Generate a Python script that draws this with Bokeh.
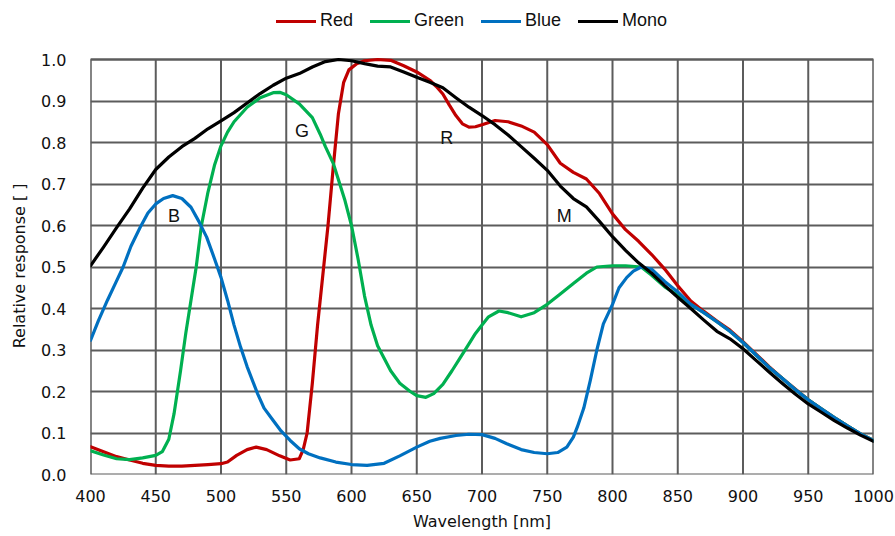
from bokeh.plotting import figure
from bokeh.models import Range1d, FixedTicker, Legend, LegendItem
from bokeh.core.properties import value
from bokeh.embed import file_html
from bokeh.resources import INLINE

# ---------------- data ----------------
red_wl = [400, 410, 420, 430, 440, 450, 460, 470, 480, 490, 500, 505, 512, 520, 527, 535, 545, 553,
          560, 563, 566, 570, 574, 578, 582, 586, 590, 594, 598, 604, 610, 620, 630, 640, 650, 660,
          665, 670, 675, 680, 685, 690, 695, 700, 710, 720, 730, 740, 750, 760, 770, 780, 790, 800,
          810, 820, 830, 840, 850, 860, 870, 880, 890, 900, 910, 920, 930, 940, 950, 960, 970, 980,
          990, 1000]
red_val = [0.067, 0.055, 0.043, 0.035, 0.027, 0.022, 0.020, 0.020, 0.022, 0.024, 0.026, 0.030, 0.046,
           0.060, 0.066, 0.060, 0.045, 0.035, 0.038, 0.060, 0.100, 0.220, 0.360, 0.480, 0.600, 0.740,
           0.870, 0.945, 0.975, 0.990, 0.997, 1.000, 0.998, 0.985, 0.970, 0.950, 0.935, 0.917, 0.890,
           0.865, 0.845, 0.837, 0.838, 0.843, 0.853, 0.850, 0.840, 0.825, 0.795, 0.750, 0.728, 0.712,
           0.677, 0.628, 0.590, 0.562, 0.530, 0.495, 0.455, 0.418, 0.393, 0.370, 0.348, 0.320, 0.290,
           0.260, 0.232, 0.206, 0.180, 0.158, 0.137, 0.117, 0.098, 0.082]

green_wl = [400, 410, 420, 430, 440, 450, 455, 460, 464, 469, 473, 477, 481, 485, 490, 495, 500, 505,
            510, 520, 530, 540, 545, 550, 560, 570, 576, 580, 586, 590, 595, 600, 605, 610, 615, 620,
            625, 630, 637, 645, 650, 657, 663, 670, 677, 683, 690, 695, 700, 705, 713, 720, 730, 740,
            750, 760, 770, 780, 788, 800, 810, 822, 830, 840, 850, 860, 870, 880, 890, 900, 910, 920,
            930, 940, 950, 960, 970, 980, 990, 1000]
green_val = [0.057, 0.047, 0.038, 0.036, 0.040, 0.046, 0.055, 0.085, 0.146, 0.250, 0.340, 0.420, 0.500,
             0.600, 0.680, 0.745, 0.792, 0.825, 0.850, 0.885, 0.908, 0.920, 0.921, 0.915, 0.893, 0.860,
             0.820, 0.790, 0.750, 0.710, 0.660, 0.600, 0.520, 0.430, 0.360, 0.310, 0.280, 0.250, 0.220,
             0.200, 0.190, 0.186, 0.195, 0.217, 0.250, 0.280, 0.315, 0.340, 0.360, 0.380, 0.394, 0.390,
             0.380, 0.390, 0.410, 0.435, 0.460, 0.485, 0.500, 0.503, 0.503, 0.500, 0.480, 0.452, 0.432,
             0.410, 0.390, 0.368, 0.345, 0.318, 0.288, 0.258, 0.232, 0.205, 0.180, 0.158, 0.137, 0.117,
             0.098, 0.082]

blue_wl = [400, 406, 413, 419, 425, 431, 438, 444, 450, 456, 463, 470, 477, 483, 489, 495, 500, 505,
           510, 515, 520, 528, 533, 540, 546, 553, 560, 567, 576, 588, 600, 612, 625, 637, 650, 660,
           668, 680, 690, 700, 710, 719, 730, 740, 750, 758, 765, 770, 773, 778, 783, 788, 793, 800,
           805, 811, 816, 822, 830, 840, 850, 860, 870, 880, 890, 900, 910, 920, 930, 940, 950, 960,
           970, 980, 990, 1000]
blue_val = [0.323, 0.370, 0.420, 0.460, 0.500, 0.550, 0.595, 0.630, 0.652, 0.665, 0.672, 0.665, 0.644,
            0.610, 0.572, 0.520, 0.475, 0.420, 0.360, 0.307, 0.260, 0.195, 0.160, 0.130, 0.105, 0.082,
            0.062, 0.050, 0.040, 0.030, 0.024, 0.022, 0.027, 0.045, 0.066, 0.080, 0.087, 0.094, 0.097,
            0.096, 0.087, 0.074, 0.060, 0.053, 0.050, 0.053, 0.066, 0.090, 0.114, 0.160, 0.227, 0.300,
            0.363, 0.410, 0.450, 0.475, 0.490, 0.500, 0.495, 0.465, 0.440, 0.410, 0.390, 0.368, 0.345,
            0.318, 0.288, 0.258, 0.232, 0.205, 0.180, 0.158, 0.137, 0.117, 0.098, 0.082]

mono_wl = [400, 410, 420, 430, 440, 450, 460, 470, 480, 490, 500, 510, 520, 530, 540, 550, 560, 570,
           580, 590, 600, 610, 620, 630, 640, 650, 660, 670, 680, 690, 700, 710, 720, 730, 740, 750,
           760, 770, 780, 790, 800, 810, 820, 830, 840, 850, 860, 870, 880, 890, 900, 910, 920, 930,
           940, 950, 960, 970, 980, 990, 1000]
mono_val = [0.503, 0.548, 0.595, 0.640, 0.690, 0.735, 0.765, 0.790, 0.810, 0.833, 0.852, 0.872, 0.895,
            0.918, 0.938, 0.955, 0.966, 0.982, 0.995, 1.000, 0.997, 0.990, 0.984, 0.982, 0.970, 0.957,
            0.945, 0.932, 0.908, 0.885, 0.865, 0.843, 0.818, 0.790, 0.762, 0.733, 0.695, 0.665, 0.645,
            0.610, 0.573, 0.540, 0.510, 0.485, 0.455, 0.427, 0.400, 0.372, 0.345, 0.327, 0.303, 0.275,
            0.247, 0.220, 0.194, 0.170, 0.150, 0.130, 0.112, 0.095, 0.080]

series_names = ["Red", "Green", "Blue", "Mono"]

x_ticks = [400, 450, 500, 550, 600, 650, 700, 750, 800, 850, 900, 950, 1000]
y_ticks = [0.0, 0.1, 0.2, 0.3, 0.4, 0.5, 0.6, 0.7, 0.8, 0.9, 1.0]
y_tick_labels = ["0.0", "0.1", "0.2", "0.3", "0.4", "0.5", "0.6", "0.7", "0.8", "0.9", "1.0"]

curve_label_text = ["B", "G", "R", "M"]
curve_label_x = [464, 562, 673, 763]
curve_label_y = [0.623, 0.828, 0.811, 0.622]

# ---------------- layout / styling ----------------
colors = ["#C00000", "#00B050", "#0070C0", "#000000"]
grid_color = "#5c5c5c"
tick_font = "DejaVu Sans"

W, H = 895, 536
border_left, border_right, border_top, border_bottom = 90, 22, 11, 62
plot_px = 415            # pixel height of the 0..1 data area
frame_h = H - border_top - border_bottom
y_lo, y_hi = y_ticks[0], y_ticks[-1]
y_top = y_lo + (y_hi - y_lo) * frame_h / plot_px   # extra room above 1.0 for the legend

p = figure(width=W, height=H,
           x_range=Range1d(x_ticks[0], x_ticks[-1]), y_range=Range1d(y_lo, y_top),
           output_backend="svg", toolbar_location=None,
           min_border_left=border_left, min_border_right=border_right,
           min_border_top=border_top, min_border_bottom=border_bottom)
p.title.visible = False
p.background_fill_color = "white"
p.border_fill_color = "white"
p.outline_line_color = None

p.xaxis.ticker = FixedTicker(ticks=x_ticks)
p.yaxis.ticker = FixedTicker(ticks=y_ticks)
p.yaxis.major_label_overrides = {t: s for t, s in zip(y_ticks, y_tick_labels)}
p.yaxis.bounds = (y_lo, y_hi)

for ax in (p.xaxis[0], p.yaxis[0]):
    ax.axis_line_color = None
    ax.major_tick_line_color = None
    ax.minor_tick_line_color = None
    ax.major_tick_out = 0
    ax.major_tick_in = 0
    ax.minor_tick_out = 0
    ax.major_label_text_font = tick_font
    ax.major_label_text_font_size = "16px"
    ax.major_label_text_color = "#111111"
    ax.axis_label_text_font = tick_font
    ax.axis_label_text_font_size = "16px"
    ax.axis_label_text_font_style = "normal"
    ax.axis_label_text_color = "#111111"

p.xaxis.axis_label = "Wavelength [nm]"
# trailing no-break spaces keep the label centred on the 0..1 part of the frame
p.yaxis.axis_label = "Relative response [ ]" + "\u00a0" * 9
p.xaxis.major_label_standoff = 15
p.xaxis.axis_label_standoff = 7
p.yaxis.major_label_standoff = 24
p.yaxis.axis_label_standoff = 9

# horizontal grid from the y axis ticks; vertical grid limited to 0..1
p.ygrid.grid_line_color = grid_color
p.ygrid.grid_line_width = 2
p.xgrid.visible = False
p.segment(x0=x_ticks, y0=[y_lo] * len(x_ticks), x1=x_ticks, y1=[y_hi] * len(x_ticks),
          line_color=grid_color, line_width=2)
# plot border
p.quad(left=[x_ticks[0]], right=[x_ticks[-1]], bottom=[y_lo], top=[y_hi],
       fill_color=None, line_color=grid_color, line_width=2)

renderers = []
for wl, vals, col in [(red_wl, red_val, colors[0]), (green_wl, green_val, colors[1]),
                      (blue_wl, blue_val, colors[2]), (mono_wl, mono_val, colors[3])]:
    r = p.line(wl, vals, line_color=col, line_width=3.2, line_join="round", line_cap="round")
    renderers.append(r)

p.text(x=curve_label_x, y=curve_label_y, text=curve_label_text,
       text_font=value("Liberation Sans"), text_font_size=value("18px"),
       text_align="center", text_baseline="middle", text_color="#111111")

legend = Legend(items=[LegendItem(label=n, renderers=[r]) for n, r in zip(series_names, renderers)],
                orientation="horizontal", location=(186, 443),
                glyph_width=40, glyph_height=20, label_standoff=4, spacing=17,
                padding=0, margin=0, border_line_color=None, background_fill_alpha=0,
                label_text_font="Liberation Sans", label_text_font_size="18px",
                label_text_color="#111111")
p.add_layout(legend)

open("out.html", "w").write(file_html(p, INLINE))
